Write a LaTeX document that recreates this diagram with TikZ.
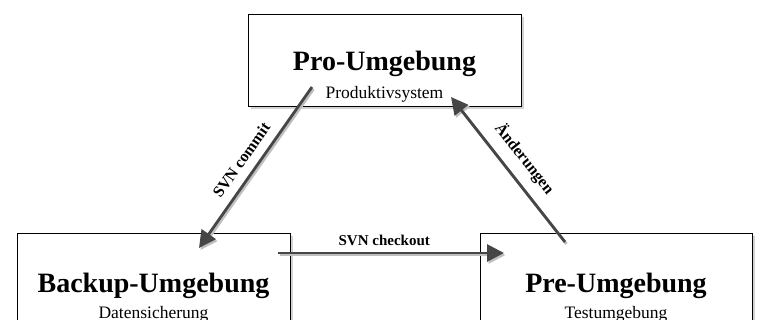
\documentclass[tikz,border=0pt]{standalone}
\usepackage{fontspec}
\setmainfont{Liberation Serif}
\usetikzlibrary{arrows.meta,shadows}
\definecolor{arrowgray}{HTML}{464646}
\tikzset{
  box/.style={draw=black, line width=1.4pt, fill=white, anchor=north west, inner sep=0pt,
    drop shadow={shadow xshift=2pt, shadow yshift=-2.5pt, opacity=0.35}},
  titletext/.style={font=\fontsize{28}{30}\selectfont\bfseries, anchor=base, inner sep=0pt},
  subtext/.style={font=\fontsize{17.5}{19}\selectfont, anchor=base, inner sep=0pt},
  flow/.style={draw=arrowgray, line width=2.8pt, -{Triangle[length=17pt,width=17pt]},
    preaction={draw=black!25, line width=2.8pt, transform canvas={shift={(1.5pt,-2pt)}}}},
  flowlabel/.style={font=\fontsize{15}{17}\selectfont\bfseries, inner sep=0pt},
  slopedlabel/.style={font=\fontsize{16}{18}\selectfont\bfseries, inner sep=0pt}
}
\begin{document}
\begin{tikzpicture}[x=1pt,y=1pt]
\useasboundingbox (0,0) rectangle (762,-320);
\clip (0,0) rectangle (762,-320);
% boxes
\node[box, minimum width=273pt, minimum height=92pt] (pro) at (248,-14) {};
\node[box, minimum width=273pt, minimum height=120pt] (backup) at (17,-233) {};
\node[box, minimum width=272pt, minimum height=120pt] (pre) at (480,-233) {};
% texts
\node[titletext] (protitle) at (384.5,-71) {Pro-Umgebung};
\node[subtext] (prosub) at (384.5,-99) {Produktivsystem};
\node[titletext] (backuptitle) at (153.5,-292) {Backup-Umgebung};
\node[subtext] (backupsub) at (153.5,-318) {Datensicherung};
\node[titletext] (pretitle) at (616,-292) {Pre-Umgebung};
\node[subtext] (presub) at (616,-318) {Testumgebung};
% connector endpoints
\coordinate (commitS) at (312,-87);
\coordinate (commitE) at (199,-248);
\coordinate (checkS) at (278,-253);
\coordinate (checkE) at (504,-253);
\coordinate (aendS) at (565,-242);
\coordinate (aendE) at (451,-97);
% arrows
\draw[flow] (commitS) -- (commitE);
\draw[flow] (checkS) -- (checkE);
\draw[flow] (aendS) -- (aendE);
% labels
\path (commitE) -- node[slopedlabel, sloped, above=10pt, pos=0.49] (lcommit) {SVN commit} (commitS);
\path (checkS) -- node[flowlabel, above=7pt, pos=0.47] (lcheck) {SVN checkout} (checkE);
\path (aendE) -- node[slopedlabel, sloped, above=11pt, pos=0.51] (laend) {Änderungen} (aendS);
\end{tikzpicture}
\end{document}
